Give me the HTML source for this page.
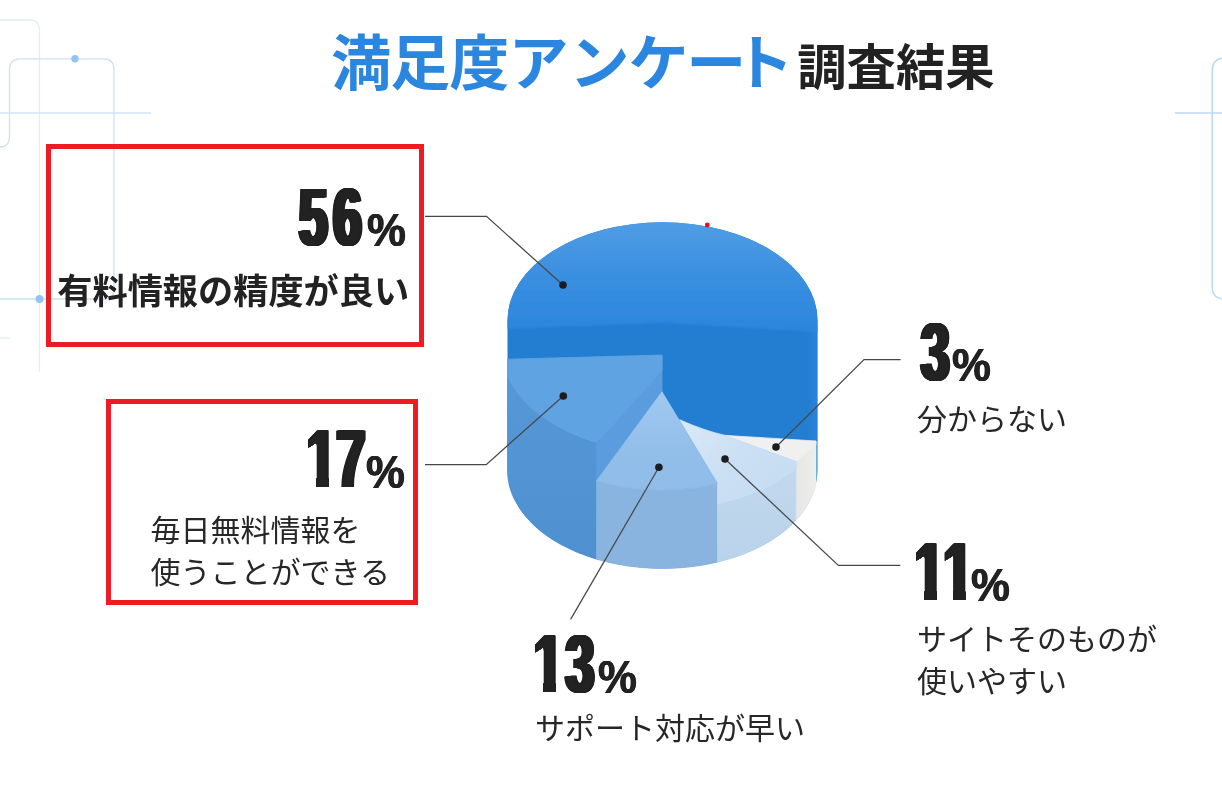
<!DOCTYPE html>
<html lang="ja">
<head>
<meta charset="utf-8">
<title>満足度アンケート調査結果</title>
<style>
html,body{margin:0;padding:0;background:#fff;}
body{width:1222px;height:790px;position:relative;overflow:hidden;font-family:"Liberation Sans","Noto Sans CJK JP",sans-serif;color:#222;}
#art{position:absolute;left:0;top:0;width:1222px;height:790px;}
.t{position:absolute;white-space:nowrap;line-height:1;}
.title{left:331.3px;top:34.6px;font-weight:700;font-size:60px;color:#2b86e0;letter-spacing:-1px;}
.title i{font-style:normal;}
.title2{left:797.2px;top:42.9px;font-weight:700;font-size:49.4px;color:#222;}
.num{font-family:"Liberation Sans",sans-serif;font-weight:700;color:#222;font-size:81px;transform-origin:0 0;transform:scaleX(0.635);text-shadow:0.5px 0 0 #222,-0.5px 0 0 #222,1.0px 0 0 #222,-1.0px 0 0 #222,1.5px 0 0 #222,-1.5px 0 0 #222,2.0px 0 0 #222,-2.0px 0 0 #222,2.5px 0 0 #222,-2.5px 0 0 #222,3.0px 0 0 #222,-3.0px 0 0 #222,3.5px 0 0 #222,-3.5px 0 0 #222,4.0px 0 0 #222,-4.0px 0 0 #222;}
.num b{display:inline-block;font-weight:700;}
.num b.one{clip-path:polygon(-20% 0,120% 0,120% 72.2%,75.5% 72.2%,75.5% 100%,33.5% 100%,33.5% 28.5%,0% 36.5%,-20% 36.5%);}
.pct{font-family:"Liberation Sans",sans-serif;font-weight:700;color:#222;font-size:47px;transform-origin:0 0;transform:scaleX(0.93);text-shadow:0.6px 0 0 #222,-0.6px 0 0 #222;}
.lab{font-size:30px;color:#272727;font-weight:400;}
.labb{font-size:35.2px;color:#222;font-weight:700;}
.box{position:absolute;border:5px solid #ec1b24;box-sizing:border-box;}
</style>
</head>
<body>
<svg id="art" width="1222" height="790" viewBox="0 0 1222 790">
<!-- decorative lines -->
<g fill="none" stroke="#c9e1f6" stroke-width="1.3">
<path d="M0 20 H30 Q39.5 20 39.5 30 V372" stroke="#e1eefa"/>
<path d="M0 147 Q9.5 147 9.5 136 V69.5 Q9.5 58.8 20 58.8 H103.5 Q114 58.8 114 69.5 V289 Q114 299 104 299 H0"/>
<path d="M0 113 H151" stroke="#cfe4f7"/>
<path d="M0 338 H10" stroke="#e1eefa"/>
<path d="M1226 58 H1224.5 Q1212.2 58 1212.2 71 V287 Q1212.2 299 1224.5 299 H1226" stroke="#bcd9f4" stroke-width="1.5"/>
<path d="M1175 113 H1222" stroke="#bcd9f4" stroke-width="1.4"/>
</g>
<circle cx="75" cy="58.8" r="3.7" fill="#8fc5f0"/>
<circle cx="39.5" cy="299" r="3.9" fill="#8fc5f0"/>
<g id="pie">
<defs>
<linearGradient id="g56" gradientUnits="userSpaceOnUse" x1="0" y1="222" x2="0" y2="330"><stop offset="0" stop-color="#509de4"/><stop offset="0.5" stop-color="#3a8fe0"/><stop offset="1" stop-color="#2c86dd"/></linearGradient>
<linearGradient id="g17w" gradientUnits="userSpaceOnUse" x1="0" y1="380" x2="0" y2="560"><stop offset="0" stop-color="#5697d7"/><stop offset="1" stop-color="#4f90d1"/></linearGradient>
<linearGradient id="g13t" gradientUnits="userSpaceOnUse" x1="0" y1="392" x2="0" y2="490"><stop offset="0" stop-color="#a1c9f0"/><stop offset="0.6" stop-color="#92beea"/><stop offset="1" stop-color="#90bce9"/></linearGradient>
<linearGradient id="g11w" gradientUnits="userSpaceOnUse" x1="0" y1="470" x2="0" y2="560"><stop offset="0" stop-color="#c1d8ed"/><stop offset="1" stop-color="#bad3ea"/></linearGradient>
<linearGradient id="g3w" gradientUnits="userSpaceOnUse" x1="796" y1="0" x2="817" y2="0"><stop offset="0" stop-color="#e6e6e5"/><stop offset="1" stop-color="#eeeeed"/></linearGradient>
<linearGradient id="g11t" gradientUnits="userSpaceOnUse" x1="690" y1="425" x2="760" y2="500"><stop offset="0" stop-color="#d7e7f6"/><stop offset="0.6" stop-color="#cadff3"/><stop offset="1" stop-color="#c7ddf2"/></linearGradient>
<linearGradient id="grim" gradientUnits="userSpaceOnUse" x1="808" y1="0" x2="815" y2="0"><stop offset="0" stop-color="#2c86de" stop-opacity="0"/><stop offset="1" stop-color="#2c86de" stop-opacity="0.6"/></linearGradient>
<filter id="soft" x="-5%" y="-5%" width="110%" height="110%"><feGaussianBlur stdDeviation="1.2"/></filter>
<clipPath id="sil"><path d="M507.5 320.3 V470.5 A155 98 0 0 0 662.5 568.5 A155 98 0 0 0 817.5 470.5 V320.3 A155 98 0 1 0 507.5 320.3 Z"/></clipPath>
</defs>
<path fill="#237dd1" d="M507.5 320.3 V470.5 A155 98 0 0 0 662.5 568.5 A155 98 0 0 0 817.5 470.5 V320.3 A155 98 0 1 0 507.5 320.3 Z"/>
<g clip-path="url(#sil)"><path fill="url(#g56)" filter="url(#soft)" d="M497.5 329.2 V200 H827.5 V332.5 L662.5 322.8 Z"/></g>
<path fill="url(#grim)" d="M808 326 H817.5 V442 H808 Z"/>
<path fill="url(#g17w)" d="M507.5 359 V470.5 A155 98 0 0 0 596.6 559.2 V443.7 A155 98 0 0 1 507.5 359 Z" stroke="url(#g17w)" stroke-width="0.8" stroke-linejoin="round"/>
<path fill="#5a9cdd" d="M662 355 L596.6 443.7 L596.6 480.7 L662 392 Z" stroke="#5a9cdd" stroke-width="0.8" stroke-linejoin="round"/>
<path fill="#5fa3e3" d="M507.5 359.2 L662 355 L662 370.5 L596.6 443 A165 109 0 0 1 507.5 377 Z" stroke="#5fa3e3" stroke-width="0.8" stroke-linejoin="round"/>
<path fill="#89b4df" d="M596.6 480.7 V559.2 A155 98 0 0 0 717.5 562.1 V483.6 A155 98 0 0 1 596.6 480.7 Z" stroke="#89b4df" stroke-width="0.8" stroke-linejoin="round"/>
<path fill="url(#g11w)" d="M717.5 504 V562.1 A155 98 0 0 0 796.2 520.1 V469.5 A165 109 0 0 1 717.5 504 Z" stroke="url(#g11w)" stroke-width="0.8" stroke-linejoin="round"/>
<path fill="url(#g3w)" d="M796.2 461 V520.1 A155 98 0 0 0 816 484.1 V441 L796.2 452 Z" stroke="url(#g3w)" stroke-width="0.8" stroke-linejoin="round"/>
<path fill="#f0f0f0" d="M725.4 435.4 L816 441 L816 444.5 L796.2 461.5 Z" stroke="#f0f0f0" stroke-width="0.8" stroke-linejoin="round"/>
<path fill="url(#g11t)" d="M679.6 419.7 Q705 431 725.4 435.4 L796.2 461.5 V469.5 A165 109 0 0 1 717.5 504 V483.6 Z" stroke="url(#g11t)" stroke-width="0.8" stroke-linejoin="round"/>
<path fill="url(#g13t)" d="M662 391.8 L596.6 480.7 A155 98 0 0 0 717.5 483.6 Z" stroke="url(#g13t)" stroke-width="0.8" stroke-linejoin="round"/>
</g>
<g id="leaders" fill="none" stroke="#484848" stroke-width="1.25">
<path d="M425 216.4 H486.5 L563 285"/>
<path d="M425 464.6 H486.2 L563.3 396"/>
<path d="M900.6 359.5 H864 L776 447"/>
<path d="M900.3 565.4 H838.4 L725 459"/>
<path d="M570.6 619.4 L658.9 467.2"/>
</g>
<g fill="#1d1d1f">
<circle cx="563" cy="285" r="3.8"/><circle cx="563.3" cy="396" r="3.8"/><circle cx="776" cy="447" r="3.8"/><circle cx="725" cy="459" r="3.8"/><circle cx="658.9" cy="467.2" r="3.8"/>
</g>
<circle cx="707.3" cy="225" r="2.4" fill="#ee0d17"/>
</svg>
<div class="t title">満足度<i style="margin-left:0.3px;margin-right:1.8px">ア</i>ンケ<i style="margin-left:-1.2px">ー</i><i style="margin-left:-11.6px">ト</i></div><div class="t title2">調査結果</div>
<div class="box" style="left:46px;top:144px;width:378px;height:203px;"></div>
<div class="box" style="left:106px;top:399px;width:312px;height:206px;"></div>
<div class="t num" style="left:299px;top:176.7px;"><b style="margin-right:8.7px">5</b><b>6</b></div><div class="t pct" style="left:366.5px;top:205.5px;">%</div>
<div class="t labb" style="left:57.3px;top:274.3px;">有料情報の精度が良い</div>
<div class="t num" style="left:306.5px;top:419.3px;"><b class="one" style="margin-right:1.6px">1</b><b>7</b></div><div class="t pct" style="left:366px;top:448.3px;">%</div>
<div class="t lab" style="left:150.6px;top:515.7px;">毎日無料情報を</div>
<div class="t lab" style="left:150.6px;top:557.7px;">使うことができる</div>
<div class="t num" style="left:921.2px;top:311.5px;"><b>3</b></div><div class="t pct" style="left:951.7px;top:340.5px;">%</div>
<div class="t lab" style="left:917px;top:404.7px;">分からない</div>
<div class="t num" style="left:915.3px;top:532.3px;"><b class="one">1</b><b class="one">1</b></div><div class="t pct" style="left:970.7px;top:560.8px;">%</div>
<div class="t lab" style="left:917px;top:624.7px;">サイトそのものが</div>
<div class="t lab" style="left:917px;top:666.7px;">使いやすい</div>
<div class="t num" style="left:533.5px;top:624px;"><b class="one" style="margin-right:4.8px">1</b><b>3</b></div><div class="t pct" style="left:597.5px;top:652.8px;">%</div>
<div class="t lab" style="left:535px;top:713.5px;">サポート対応が早い</div>
</body>
</html>
